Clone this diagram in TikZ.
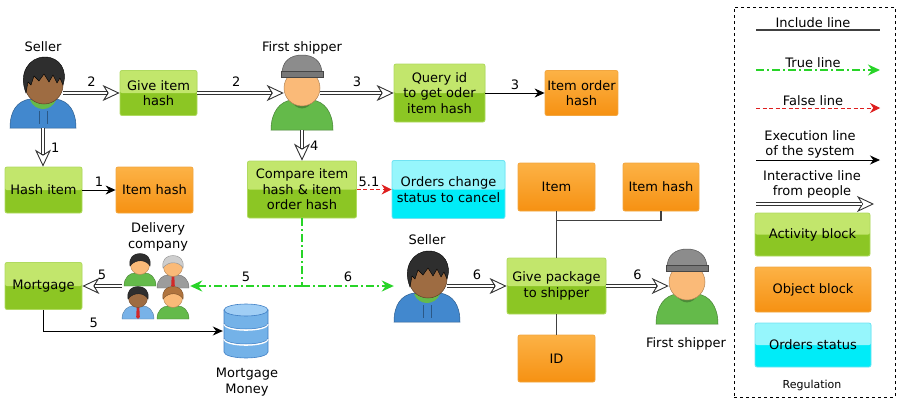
\documentclass[tikz,border=0pt]{standalone}
\usepackage{fontspec}
\setmainfont{DejaVu Sans}
\usetikzlibrary{arrows.meta, positioning, calc}

\definecolor{actTop}{RGB}{194,230,108}
\definecolor{actBot}{RGB}{140,198,36}
\definecolor{actLine}{RGB}{176,218,96}
\definecolor{objTop}{RGB}{252,178,70}
\definecolor{objBot}{RGB}{246,145,18}
\definecolor{objLine}{RGB}{242,166,64}
\definecolor{stTop}{RGB}{150,246,252}
\definecolor{stBot}{RGB}{0,236,248}
\definecolor{stLine}{RGB}{112,226,242}
\definecolor{trueGreen}{RGB}{40,212,40}
\definecolor{falseRed}{RGB}{222,30,30}
\definecolor{hairDark}{RGB}{46,46,46}
\definecolor{hairGrey}{RGB}{206,206,206}
\definecolor{hairBrown}{RGB}{176,116,62}
\definecolor{skinBrown}{RGB}{158,108,66}
\definecolor{skinPeach}{RGB}{250,186,120}
\definecolor{hoodBlue}{RGB}{66,136,206}
\definecolor{shirtGreen}{RGB}{100,186,74}
\definecolor{shirtBlue}{RGB}{120,178,232}
\definecolor{suitGrey}{RGB}{156,156,156}
\definecolor{tieRed}{RGB}{210,40,40}
\definecolor{capGrey}{RGB}{140,140,140}
\definecolor{dbBlue}{RGB}{116,178,232}
\definecolor{dbTop}{RGB}{160,206,245}
\definecolor{dbLine}{RGB}{62,126,196}

\tikzset{
	block/.style={rectangle, rounded corners=2pt, align=center, inner sep=0pt, line width=0.8pt},
	gloss/.style={path picture={\fill[#1] (path picture bounding box.north west) rectangle (path picture bounding box.east);}},
	activity/.style={block, draw=actLine, fill=actBot, gloss=actTop},
	object/.style={block, draw=objLine, top color=objTop, bottom color=objBot},
	status/.style={block, draw=stLine, fill=stBot, gloss=stTop},
	num/.style={inner sep=1pt},
	include/.style={draw=black!75, line width=1.3pt},
	execute/.style={draw=black, line width=0.9pt, -{Stealth[length=10pt, width=9pt]}},
	trueline/.style={draw=trueGreen, line width=1.7pt, dash pattern=on 8pt off 3pt on 2pt off 3pt},
	truearrow/.style={trueline, -{Stealth[length=12pt, width=11pt]}},
	falsearrow/.style={draw=falseRed, line width=0.9pt, dash pattern=on 4pt off 2.5pt, -{Stealth[length=10pt, width=10pt]}},
	% hollow double shaft with a single open head
	interact/.style={draw=black!80, line width=4.4pt,
		-{Stealth[open, line width=0.9pt, length=17pt, width=16pt, inset=5pt]},
		postaction={draw=white, line width=2.6pt, -, shorten >=12.5pt}},
	seller icon/.pic={
		\node[minimum width=66pt, minimum height=74pt, inner sep=0pt] (-box) at (0,0) {};
		\fill[hoodBlue, draw=hoodBlue!70!black, line width=0.5pt]
			(-33,37) .. controls (-33,20) and (-26,10) .. (-13,8) -- (13,8)
			.. controls (26,10) and (33,20) .. (33,37) -- cycle;
		\draw[hoodBlue!65!black, line width=0.5pt] (-4,20) -- (-4,33) (4,20) -- (4,33);
		\fill[shirtGreen] (-13,9) .. controls (-8,21) and (8,21) .. (13,9) -- cycle;
		\node[circle, minimum size=38pt, inner sep=0pt, fill=skinBrown, draw=skinBrown!60!black, line width=0.5pt] (-face) at (1,-6) {};
		\fill[hairDark, draw=black, line width=0.4pt]
			(-17,2) .. controls (-25,-18) and (-14,-34) .. (2,-34)
			.. controls (17,-34) and (25,-20) .. (20,-6)
			-- (17,-13) -- (14,-8) -- (10,-16) -- (6,-9) -- (1,-17) -- (-4,-10)
			-- (-9,-15) -- (-12,-6) -- (-15,-9) -- cycle;
		\coordinate (-foot) at (0,37);
	},
	shipper icon/.pic={
		\node[minimum width=64pt, minimum height=75pt, inner sep=0pt] (-box) at (0,0) {};
		\fill[shirtGreen, draw=shirtGreen!70!black, line width=0.5pt]
			(-31,38) .. controls (-31,20) and (-22,9) .. (-10,8) -- (10,8)
			.. controls (22,9) and (31,20) .. (31,38) -- cycle;
		\fill[shirtGreen!75!black] (-11,8.5) .. controls (-6,19) and (6,19) .. (11,8.5) -- cycle;
		\node[circle, minimum size=36pt, inner sep=0pt, fill=skinPeach, draw=skinPeach!70!black, line width=0.5pt] (-face) at (0,-4) {};
		\fill[capGrey, draw=capGrey!60!black, line width=0.5pt]
			(-20,-16) .. controls (-21,-32) and (-10,-37) .. (0,-37)
			.. controls (10,-37) and (21,-32) .. (20,-16) -- cycle;
		\fill[capGrey!85!black, draw=capGrey!50!black, line width=0.5pt] (-21,-21) rectangle (21,-15);
		\coordinate (-foot) at (0,38);
	},
	pics/staff/.style n args={4}{code={
		\fill[#3, draw=#3!70!black, line width=0.4pt]
			(-16,21) .. controls (-16,12) and (-10,8) .. (-5,8) -- (5,8)
			.. controls (10,8) and (16,12) .. (16,21) -- cycle;
		\path[fill=#4] (-1.3,9) -- (1.3,9) -- (1.8,19) -- (0,21) -- (-1.8,19) -- cycle;
		\fill[#2, draw=#2!70!black, line width=0.4pt] (0,0) circle[radius=9.5];
		\fill[#1, draw=#1!70!black, line width=0.4pt]
			(-10,1) .. controls (-11.5,-8) and (-6,-11.5) .. (0,-11.5)
			.. controls (6,-11.5) and (11.5,-8) .. (10,1)
			.. controls (7,-5) and (-4,-7) .. (-10,1) -- cycle;
	}},
}

\begin{document}
\begin{tikzpicture}[x=1pt, y=-1pt, font=\fontsize{13}{15.5}\selectfont]
	\useasboundingbox (0,0) rectangle (900,399);

	% blocks
	\node[activity, minimum width=77pt, minimum height=45pt] (give) at (158.5,93) {Give item\\hash};
	\node[activity, minimum width=91pt, minimum height=58pt] (query) at (439.5,93) {Query id\\to get oder\\item hash};
	\node[object, minimum width=73pt, minimum height=45pt] (itemorder) at (581.5,93) {Item order\\hash};
	\node[activity, minimum width=77pt, minimum height=46pt] (hashitem) at (43.5,190) {Hash item};
	\node[object, minimum width=77pt, minimum height=46pt] (itemhash) at (154.5,190) {Item hash};
	\node[activity, minimum width=109pt, minimum height=57pt] (compare) at (302,189.5) {Compare item\\hash \& item\\order hash};
	\node[status, minimum width=113pt, minimum height=58pt] (orders) at (448.5,189.5) {Orders change\\status to cancel};
	\node[object, minimum width=77pt, minimum height=48pt] (item) at (556.5,187) {Item};
	\node[object, minimum width=76pt, minimum height=48pt] (pkghash) at (661,187) {Item hash};
	\node[activity, minimum width=99pt, minimum height=56pt] (givepkg) at (556.5,286) {Give package\\to shipper};
	\node[object, minimum width=77pt, minimum height=47pt] (id) at (556.5,358.5) {ID};
	\node[activity, minimum width=77pt, minimum height=47pt] (mortgage) at (43.5,286) {Mortgage};

	% people
	\pic (seller) at (43,91) {seller icon};
	\node (sellerTxt) at (43,47) {Seller};
	\pic (shipper) at (302,92) {shipper icon};
	\node (shipperTxt) at (302,48) {First shipper};
	\pic (seller2) at (427,285) {seller icon};
	\node (seller2Txt) at (427,240) {Seller};
	\pic (shipper2) at (687,286) {shipper icon};
	\node (shipper2Txt) at (686,344) {First shipper};

	\node[minimum width=68pt, minimum height=72pt, inner sep=0pt] (delivery) at (156,286) {};
	\pic at ($(delivery)+(-16,-21)$) {staff={hairDark}{skinPeach}{shirtGreen}{none}};
	\pic at ($(delivery)+(17,-19)$) {staff={hairGrey}{skinPeach}{suitGrey}{tieRed}};
	\pic at ($(delivery)+(-18,12)$) {staff={hairDark}{skinBrown}{shirtBlue}{tieRed}};
	\pic at ($(delivery)+(17,12)$) {staff={hairBrown}{skinPeach}{shirtGreen}{none}};
	\node[align=center] (deliveryTxt) at (158,237) {Delivery\\company};

	% database
	\node[minimum width=46pt, minimum height=56pt, inner sep=0pt] (money) at (246,331) {};
	\begin{scope}[shift={(money.center)}]
		\fill[dbBlue, draw=dbLine, line width=0.6pt] (-22,-21) -- (-22,21)
			arc[start angle=180, end angle=0, x radius=22, y radius=6] -- (22,-21) -- cycle;
		\foreach \yy in {-7,8} {
			\draw[white, line width=1.6pt] (-22,\yy) arc[start angle=180, end angle=0, x radius=22, y radius=6];
			\draw[dbLine, line width=0.5pt] (-22,\yy-1) arc[start angle=180, end angle=0, x radius=22, y radius=6];
		}
		\fill[dbTop, draw=dbLine, line width=0.6pt] (0,-21) ellipse[x radius=22, y radius=6];
	\end{scope}
	\node[align=center] (moneyTxt) at (247,382) {Mortgage\\Money};

	% connectors
	\draw[interact] (seller-face.east |- give) -- (give) node[num, midway, above=3pt] {2};
	\draw[interact] (give) -- (give -| shipper-face.west) node[num, pos=.45, above=3pt] {2};
	\draw[interact] (shipper-face.east |- query) -- (query) node[num, midway, above=3pt] {3};
	\draw[execute] (query) -- (itemorder) node[num, midway, above=2pt] {3};
	\draw[interact] (seller-foot) -- (seller-foot |- hashitem.north) node[num, midway, right=5pt] {1};
	\draw[execute] (hashitem) -- (itemhash) node[num, midway, above=2pt] {1};
	\draw[interact] (shipper-foot) -- (shipper-foot |- compare.north) node[num, midway, right=5pt] {4};
	\draw[falsearrow] (compare) -- (orders) node[num, pos=.35, above=1pt] {5.1};
	\coordinate (split) at (compare.south |- givepkg);
	\draw[trueline] (compare) -- (split);
	\draw[truearrow] (split) -- (delivery) node[num, midway, above=2pt] {5};
	\draw[truearrow] (split) -- (split -| seller2-box.west) node[num, midway, above=2pt] {6};
	\draw[interact] (delivery) -- (mortgage) node[num, midway, above=3pt] {5};
	\draw[execute] (mortgage) |- (money) node[num, pos=.64, above=2pt] {5};
	\draw[interact] (seller2-face.east |- givepkg) -- (givepkg) node[num, midway, above=3pt] {6};
	\draw[interact] (givepkg) -- (givepkg -| shipper2-face.west) node[num, midway, above=3pt] {6};
	\draw[include] (item) -- (givepkg);
	\draw[include] (pkghash) |- ([yshift=-9pt]item.south);
	\draw[include] (givepkg) -- (id);

	% regulation
	\node[draw, dashed, line width=0.7pt, minimum width=161pt, minimum height=390pt, inner sep=0pt] (legend) at (814.5,202) {};
	\node (incTxt) at (813,23) {Include line};
	\node (truTxt) at (813,63) {True line};
	\node (falTxt) at (813,101) {False line};
	\node[align=center] (exeTxt) at (810,144.5) {Execution line\\of the system};
	\node[align=center] (intTxt) at (812,184.5) {Interactive line\\from people};
	\foreach \name/\yy in {inc/30, tru/70, fal/108, exe/160, int/204} {
		\coordinate (\name L) at (756,\yy);
		\coordinate (\name R) at (880,\yy);
	}
	\draw[include] (incL) -- (incR);
	\draw[truearrow] (truL) -- (truR);
	\draw[falsearrow] (falL) -- (falR);
	\draw[execute] (exeL) -- (exeR);
	\draw[interact] (intL) -- ([xshift=-6pt]intR);
	\node[activity, minimum width=115pt, minimum height=43pt] (actKey) at (812.5,234.5) {Activity block};
	\node[object, minimum width=116pt, minimum height=45pt] (objKey) at (813,289.5) {Object block};
	\node[status, minimum width=116pt, minimum height=44pt] (stKey) at (813,345) {Orders status};
	\node[font=\fontsize{11}{13}\selectfont] (keyTitle) at (812,385) {Regulation};
\end{tikzpicture}
\end{document}
